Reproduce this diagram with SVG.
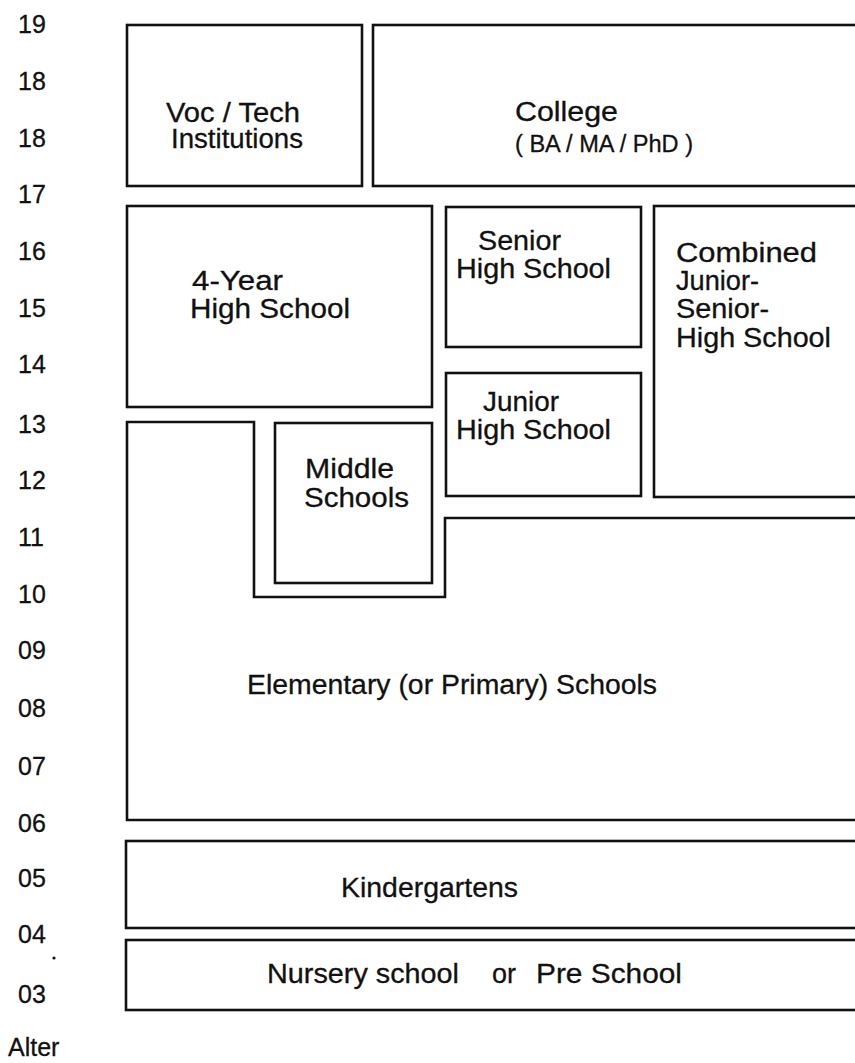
<svg xmlns="http://www.w3.org/2000/svg" width="855" height="1063" viewBox="0 0 855 1063">
<style>
.box{fill:none;stroke:#111;stroke-width:2.6;stroke-linejoin:miter}
.t{font-family:"Liberation Sans",Arial,Helvetica,sans-serif;font-size:27px;fill:#111;stroke:#111;stroke-width:0.3}
.s{font-size:23px}
.age{font-family:"Liberation Sans",Arial,Helvetica,sans-serif;font-size:25px;fill:#111;stroke:#111;stroke-width:0.3}
</style>
<rect width="855" height="1063" fill="#fff"/>
<g id="ages">
<text class="age" x="18" y="33">19</text>
<text class="age" x="18" y="90">18</text>
<text class="age" x="18" y="147">18</text>
<text class="age" x="18" y="203">17</text>
<text class="age" x="18" y="260">16</text>
<text class="age" x="18" y="317">15</text>
<text class="age" x="18" y="373">14</text>
<text class="age" x="18" y="433">13</text>
<text class="age" x="18" y="489">12</text>
<text class="age" x="18" y="546">11</text>
<text class="age" x="18" y="603">10</text>
<text class="age" x="18" y="659">09</text>
<text class="age" x="18" y="717">08</text>
<text class="age" x="18" y="775">07</text>
<text class="age" x="18" y="832">06</text>
<text class="age" x="18" y="887">05</text>
<text class="age" x="18" y="943">04</text>
<text class="age" x="18" y="1003">03</text>
<text class="age" x="8" y="1056">Alter</text>
<circle cx="54" cy="958" r="1.6" fill="#111"/>
</g>
<g id="voc-tech">
<rect class="box" x="127" y="25" width="235" height="161"/>
<text class="t" x="166" y="122" textLength="134" lengthAdjust="spacingAndGlyphs">Voc / Tech</text>
<text class="t" x="171" y="148" textLength="132" lengthAdjust="spacingAndGlyphs">Institutions</text>
</g>
<g id="college">
<rect class="box" x="373" y="25" width="500" height="161"/>
<text class="t" x="515" y="121" textLength="103" lengthAdjust="spacingAndGlyphs">College</text>
<text class="t s" x="515" y="152" textLength="178" lengthAdjust="spacingAndGlyphs">( BA / MA / PhD )</text>
</g>
<g id="four-year-high-school">
<rect class="box" x="127" y="206" width="305" height="201"/>
<text class="t" x="192" y="290" textLength="91" lengthAdjust="spacingAndGlyphs">4-Year</text>
<text class="t" x="190" y="318" textLength="160" lengthAdjust="spacingAndGlyphs">High School</text>
</g>
<g id="senior-high-school">
<rect class="box" x="446" y="207" width="195" height="140"/>
<text class="t" x="478" y="250" textLength="83" lengthAdjust="spacingAndGlyphs">Senior</text>
<text class="t" x="456" y="278" textLength="155" lengthAdjust="spacingAndGlyphs">High School</text>
</g>
<g id="junior-high-school">
<rect class="box" x="446" y="373" width="195" height="123"/>
<text class="t" x="483" y="411" textLength="76" lengthAdjust="spacingAndGlyphs">Junior</text>
<text class="t" x="456" y="439" textLength="155" lengthAdjust="spacingAndGlyphs">High School</text>
</g>
<g id="combined-junior-senior-high-school">
<rect class="box" x="654" y="206" width="220" height="291"/>
<text class="t" x="676" y="262" textLength="141" lengthAdjust="spacingAndGlyphs">Combined</text>
<text class="t" x="676" y="290" textLength="83" lengthAdjust="spacingAndGlyphs">Junior-</text>
<text class="t" x="676" y="318" textLength="93" lengthAdjust="spacingAndGlyphs">Senior-</text>
<text class="t" x="676" y="347" textLength="155" lengthAdjust="spacingAndGlyphs">High School</text>
</g>
<g id="middle-schools">
<rect class="box" x="275" y="423" width="157" height="160"/>
<text class="t" x="305" y="478" textLength="89" lengthAdjust="spacingAndGlyphs">Middle</text>
<text class="t" x="304" y="507" textLength="105" lengthAdjust="spacingAndGlyphs">Schools</text>
</g>
<g id="elementary-schools">
<path class="box" d="M874,518 L445,518 L445,597 L254,597 L254,422 L127,422 L127,820 L874,820"/>
<text class="t" x="247" y="694" textLength="410" lengthAdjust="spacingAndGlyphs">Elementary (or Primary) Schools</text>
</g>
<g id="kindergartens">
<rect class="box" x="126" y="841" width="748" height="87"/>
<text class="t" x="341" y="897" textLength="177" lengthAdjust="spacingAndGlyphs">Kindergartens</text>
</g>
<g id="nursery-school">
<rect class="box" x="126" y="940" width="748" height="70"/>
<text class="t" x="267" y="983" textLength="192" lengthAdjust="spacingAndGlyphs">Nursery school</text>
<text class="t" x="492" y="983" textLength="24" lengthAdjust="spacingAndGlyphs">or</text>
<text class="t" x="536" y="983" textLength="146" lengthAdjust="spacingAndGlyphs">Pre School</text>
</g>
<g id="connectors"></g>
</svg>
